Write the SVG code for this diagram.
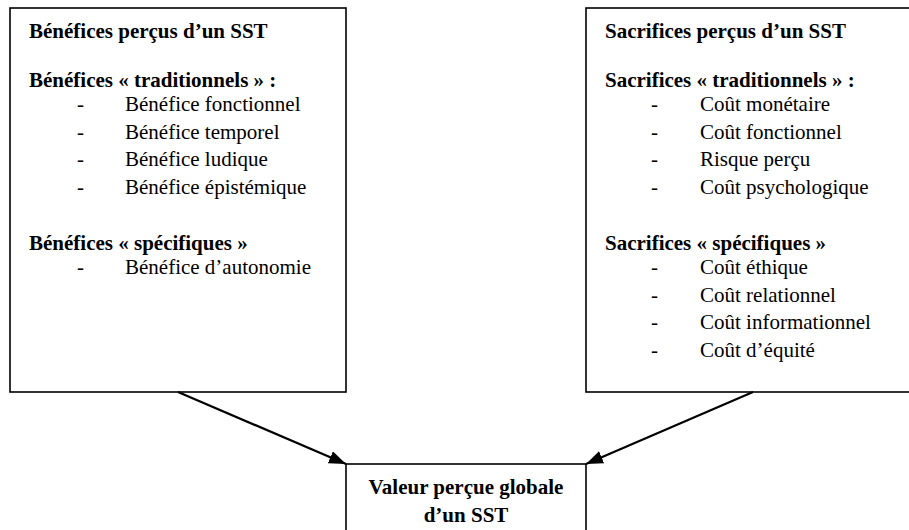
<svg xmlns="http://www.w3.org/2000/svg" width="909" height="530" viewBox="0 0 909 530">
<style>
  .box { fill: #ffffff; stroke: #000000; stroke-width: 1.6; }
  .t { font-family: "Liberation Serif", "Times New Roman", serif; font-size: 21px; fill: #000000; }
  .b { font-weight: bold; }
  .mid { text-anchor: middle; }
  .conn { stroke: #000000; stroke-width: 2.2; fill: none; marker-end: url(#arr); }
</style>
<defs>
  <marker id="arr" markerUnits="userSpaceOnUse" markerWidth="18" markerHeight="14" refX="17" refY="6.5" orient="auto">
    <path d="M0,0 L17,6.5 L0,13 z" fill="#000000"/>
  </marker>
</defs>
<rect width="909" height="530" fill="#ffffff"/>
<g id="benefices">
  <rect class="box" x="10" y="8" width="336" height="384"/>
  <text class="t b" x="29" y="38">Bénéfices perçus d’un SST</text>
  <text class="t b" x="29" y="87">Bénéfices « traditionnels » :</text>
  <text class="t" x="77" y="111">-</text><text class="t" x="125" y="111">Bénéfice fonctionnel</text>
  <text class="t" x="77" y="138.5">-</text><text class="t" x="125" y="138.5">Bénéfice temporel</text>
  <text class="t" x="77" y="166">-</text><text class="t" x="125" y="166">Bénéfice ludique</text>
  <text class="t" x="77" y="193.5">-</text><text class="t" x="125" y="193.5">Bénéfice épistémique</text>
  <text class="t b" x="29" y="250">Bénéfices « spécifiques »</text>
  <text class="t" x="77" y="274">-</text><text class="t" x="125" y="274">Bénéfice d’autonomie</text>
</g>
<g id="sacrifices">
  <rect class="box" x="586" y="8" width="340" height="384"/>
  <text class="t b" x="605" y="38">Sacrifices perçus d’un SST</text>
  <text class="t b" x="605" y="87">Sacrifices « traditionnels » :</text>
  <text class="t" x="651" y="111">-</text><text class="t" x="700" y="111">Coût monétaire</text>
  <text class="t" x="651" y="138.5">-</text><text class="t" x="700" y="138.5">Coût fonctionnel</text>
  <text class="t" x="651" y="166">-</text><text class="t" x="700" y="166">Risque perçu</text>
  <text class="t" x="651" y="193.5">-</text><text class="t" x="700" y="193.5">Coût psychologique</text>
  <text class="t b" x="605" y="250">Sacrifices « spécifiques »</text>
  <text class="t" x="651" y="274">-</text><text class="t" x="700" y="274">Coût éthique</text>
  <text class="t" x="651" y="301.5">-</text><text class="t" x="700" y="301.5">Coût relationnel</text>
  <text class="t" x="651" y="329">-</text><text class="t" x="700" y="329">Coût informationnel</text>
  <text class="t" x="651" y="356.5">-</text><text class="t" x="700" y="356.5">Coût d’équité</text>
</g>
<g id="valeur">
  <rect class="box" x="346" y="464" width="240" height="80"/>
  <text class="t b mid" x="466" y="494">Valeur perçue globale</text>
  <text class="t b mid" x="466" y="522">d’un SST</text>
</g>
<g id="connectors">
  <line class="conn" x1="178" y1="392" x2="346" y2="464"/>
  <line class="conn" x1="753" y1="392" x2="586" y2="464"/>
</g>
</svg>
